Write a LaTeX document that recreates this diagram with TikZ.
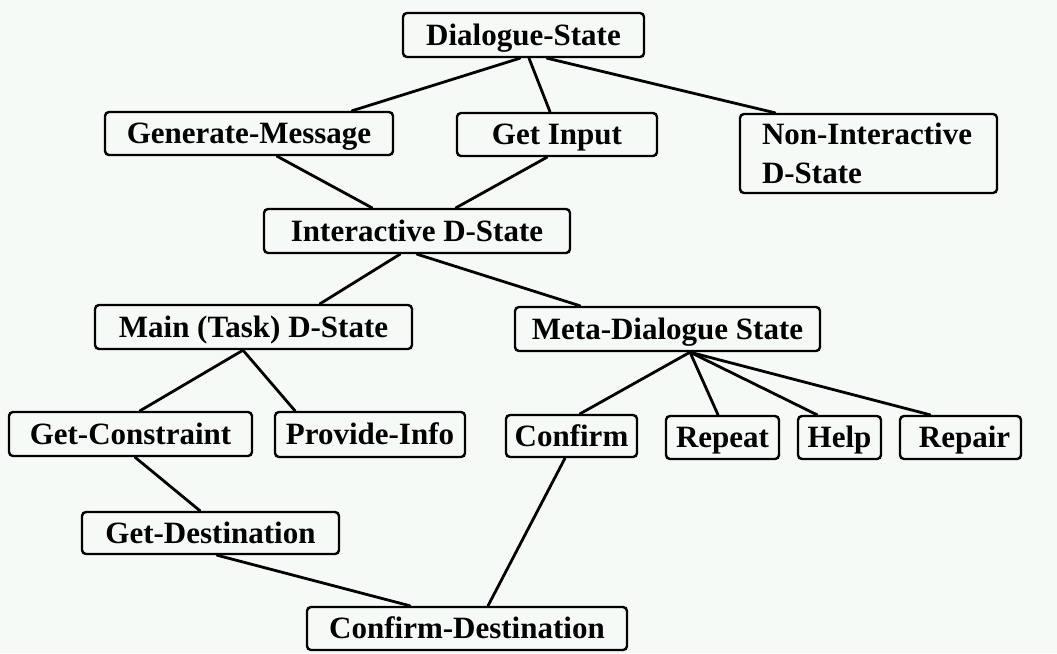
\documentclass[tikz,border=0pt]{standalone}
\usepackage{fontspec}
\setmainfont{Liberation Serif}
\begin{document}
\begin{tikzpicture}[x=1pt,y=-1pt,
  box/.style={draw=black, line width=2.4pt, rounded corners=4pt, inner sep=0pt,
    font=\fontsize{31}{39}\selectfont\bfseries, text height=20.5pt, text depth=0pt},
  link/.style={line width=2.8pt, line cap=round}]
  \fill[fill={rgb,255:red,246;green,250;blue,247}] (0,0) rectangle (1057,653);
  \useasboundingbox (0,0) rectangle (1057,653);

  % tree of dialogue states
  \node[box, minimum width=241pt, minimum height=44pt] (ds) at (523.5,35) {Dialogue-State};
  \node[box, minimum width=288pt, minimum height=43pt] (gm) at (249,133.5) {Generate-Message};
  \node[box, minimum width=200pt, minimum height=43pt] (gi) at (557,134.5) {Get Input};
  \node[box, minimum height=79pt, text width=213pt, align=left, text depth=39pt,
        inner xsep=22pt] (ni) at (868.5,153.5) {Non-Interactive\\D-State};
  \node[box, minimum width=306pt, minimum height=44pt] (id) at (417,231) {Interactive D-State};
  \node[box, minimum width=317pt, minimum height=44pt] (mt) at (253.5,327) {Main (Task) D-State};
  \node[box, minimum width=305pt, minimum height=44pt] (md) at (667.5,329) {Meta-Dialogue State};
  \node[box, minimum width=243pt, minimum height=44pt] (gc) at (130.5,434) {Get-Constraint};
  \node[box, minimum width=190pt, minimum height=45pt] (pi) at (370,434.5) {Provide-Info};
  \node[box, minimum width=131pt, minimum height=42pt] (cf) at (571.5,436) {Confirm};
  \node[box, minimum width=113pt, minimum height=43pt] (rp) at (722.5,437.5) {Repeat};
  \node[box, minimum width=83pt, minimum height=43pt] (hp) at (839.5,437.5) {Help};
  \node[box, minimum width=121pt, minimum height=43pt] (rr) at (960.5,437.5) {\hspace{8pt}Repair};
  \node[box, minimum width=257pt, minimum height=42pt] (gd) at (210.5,533) {Get-Destination};
  \node[box, minimum width=320pt, minimum height=43pt] (cd) at (467,628.5) {Confirm-Destination};

  % connectors
  \draw[link] ([xshift=-3.5pt]ds.south) -- ([xshift=103pt]gm.north);
  \draw[link] ([xshift=5.5pt]ds.south) -- ([xshift=-7pt]gi.north);
  \draw[link] ([xshift=23.5pt]ds.south) -- ([xshift=-93.5pt]ni.north);
  \draw[link] ([xshift=28pt]gm.south) -- ([xshift=-45pt]id.north);
  \draw[link] ([xshift=-10pt]gi.south) -- ([xshift=39pt]id.north);
  \draw[link] ([xshift=-17pt]id.south) -- ([xshift=66.5pt]mt.north);
  \draw[link] (id.south) -- ([xshift=-87.5pt]md.north);
  \draw[link] ([xshift=-10.5pt]mt.south) -- ([xshift=9.5pt]gc.north);
  \draw[link] ([xshift=-10.5pt]mt.south) -- ([xshift=-75pt]pi.north);
  \draw[link] ([xshift=22.5pt]md.south) -- ([xshift=8.5pt]cf.north);
  \draw[link] ([xshift=22.5pt]md.south) -- ([xshift=-4.5pt]rp.north);
  \draw[link] ([xshift=22.5pt]md.south) -- ([xshift=-22.5pt]hp.north);
  \draw[link] ([xshift=22.5pt]md.south) -- ([xshift=-30.5pt]rr.north);
  \draw[link] ([xshift=4.5pt]gc.south) -- ([xshift=-10.5pt]gd.north);
  \draw[link] ([xshift=6.5pt]gd.south) -- ([xshift=-57pt]cd.north);
  \draw[link] ([xshift=-6.5pt]cf.south) -- ([xshift=21pt]cd.north);
\end{tikzpicture}
\end{document}
